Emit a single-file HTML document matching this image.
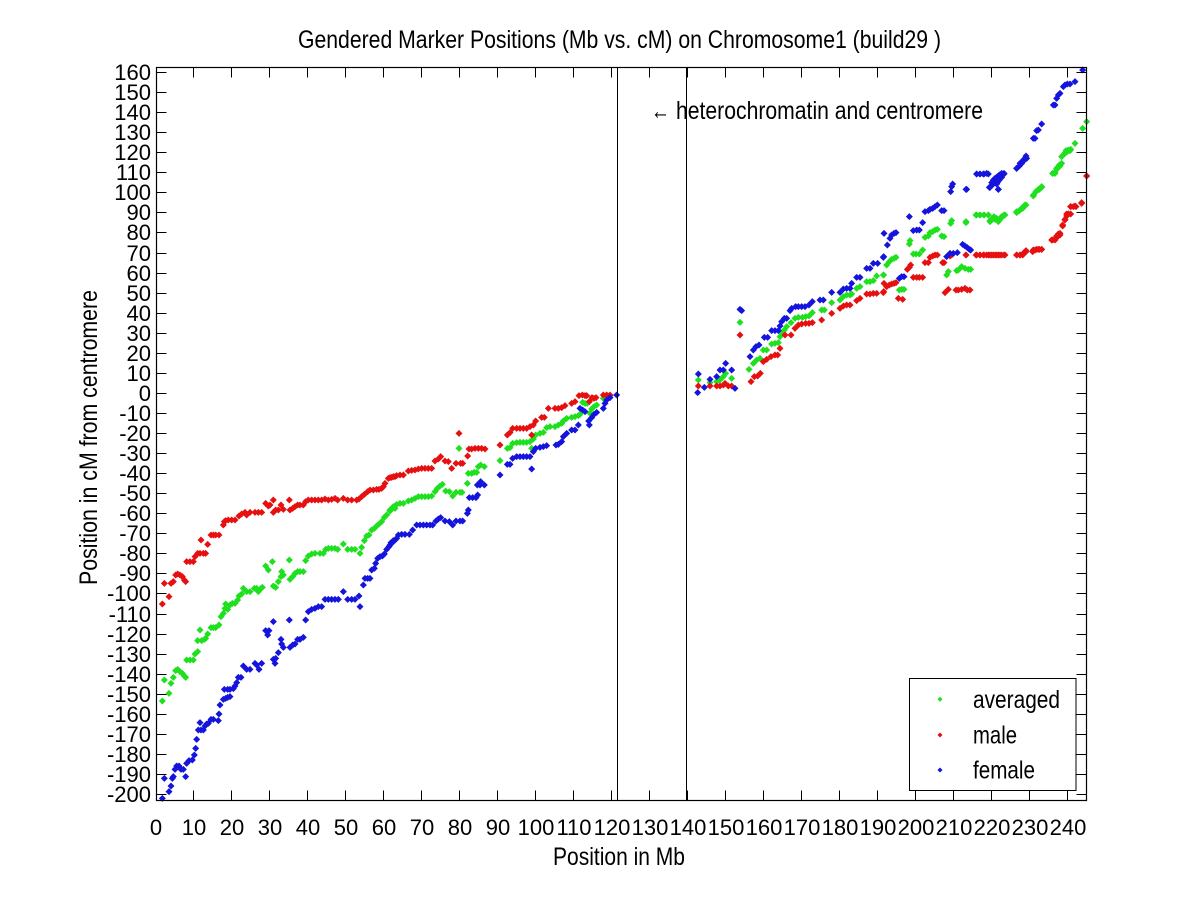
<!DOCTYPE html>
<html>
<head>
<meta charset="utf-8">
<style>
html,body{margin:0;padding:0;background:#fff;}
svg{display:block;}
text{font-family:"Liberation Sans",Arial,sans-serif;fill:#000;}
.tk{font-size:22px;}
.big{font-size:25px;}
</style>
</head>
<body>
<svg width="1200" height="900" viewBox="0 0 1200 900" xmlns="http://www.w3.org/2000/svg">
<defs>
<marker id="mr" viewBox="-12 -12 24 24" refX="0" refY="0" markerWidth="24" markerHeight="24" markerUnits="userSpaceOnUse" overflow="visible"><path d="M0-10.5L10.5 0L0 10.5L-10.5 0Z" fill="#e61010"/></marker>
<marker id="mg" viewBox="-12 -12 24 24" refX="0" refY="0" markerWidth="24" markerHeight="24" markerUnits="userSpaceOnUse" overflow="visible"><path d="M0-10.5L10.5 0L0 10.5L-10.5 0Z" fill="#1ee01e"/></marker>
<marker id="mb" viewBox="-12 -12 24 24" refX="0" refY="0" markerWidth="24" markerHeight="24" markerUnits="userSpaceOnUse" overflow="visible"><path d="M0-10.5L10.5 0L0 10.5L-10.5 0Z" fill="#1414dc"/></marker>
</defs>
<rect x="0" y="0" width="1200" height="900" fill="#fff"/>

<!-- title -->
<text class="big" x="298" y="48" textLength="643" lengthAdjust="spacingAndGlyphs">Gendered Marker Positions (Mb vs. cM) on Chromosome1 (build29 )</text>

<!-- green series -->
<g fill="none" stroke="none">
<polyline transform="translate(155,400) scale(0.33333)" marker-start="url(#mg)" marker-mid="url(#mg)" marker-end="url(#mg)" points="22,903 28,840 42,880 48,850 55,832 62,812 68,808 75,815 82,820 88,828 92,832 95,780 105,780 115,780 120,762 128,755 128,722 135,690 140,722 148,718 152,715 158,702 168,683 175,683 182,683 192,675 198,650 205,640 210,625 212,612 218,628 225,615 232,610 240,610 248,600 252,588 260,582 265,565 275,575 285,575 298,565 305,565 310,575 318,565 322,562 332,498 340,510 352,485 355,558 362,562 370,545 378,530 380,515 385,525 403,480 405,538 413,530 420,520 428,515 435,515 445,515 452,482 460,468 470,462 480,460 495,460 505,460 512,448 520,445 530,445 540,445 548,448 565,432 578,448 590,448 600,448 615,460 620,442 628,422 635,408 642,405 650,390 658,385 665,378 672,372 680,365 688,352 695,345 705,330 712,325 720,325"/>
<polyline transform="translate(390,385) scale(0.33333)" marker-start="url(#mg)" marker-mid="url(#mg)" marker-end="url(#mg)" points="0,378 10,365 20,358 30,355 40,355 55,348 65,345 75,340 85,335 95,335 105,335 115,335 125,333 135,320 142,310 150,303 157,298 167,318 178,320 188,333 198,322 210,322 216,322 232,295 235,265 245,265 252,262 260,262 265,245 272,240 283,245 207,190 330,227 352,190 360,188 368,175 380,173 390,172 400,172 410,172 420,170 425,190 430,162 437,150 450,145 460,142 470,128 480,125 495,125 505,120 515,115 520,108 530,100 545,97 555,95 565,92 570,88 578,52 585,55 592,55 600,85 605,72 612,65 620,60 640,40 650,35 660,32"/>
<polyline transform="translate(685,240) scale(0.33333)" marker-start="url(#mg)" marker-mid="url(#mg)" marker-end="url(#mg)" points="40,420 75,428 95,425 105,420 115,410 122,400 140,415 165,247 192,388 205,370 215,360 225,355 235,330 245,330 260,312 270,310 280,308 285,290 290,278 298,270 305,260 318,248 330,235 340,232 352,232 362,230 372,228 382,218 410,210 418,210 440,188 465,180 475,170 485,165 495,165 500,162 515,145 525,140 545,125 555,125 565,122 575,108 596,105"/>
<polyline transform="translate(880,150) scale(0.33333)" marker-start="url(#mg)" marker-mid="url(#mg)" marker-end="url(#mg)" points="10,375 20,345 28,335 35,328 42,325 48,322 58,420 65,418 72,418 88,282 90,272 100,312 108,312 118,312 128,300 135,262 145,258 150,248 158,245 165,240 172,238 185,258 192,260 200,375 205,365 212,220 215,212 230,362 235,360 245,350 255,355 265,358 272,358 258,215 290,195 300,195 312,195 325,195 330,212 338,205 345,208 352,212 358,210 365,200 372,195 410,185 420,180 428,175 435,165 460,135 468,125 478,118 485,112 518,70 525,68 530,55 538,45 545,40 555,10 562,5 570,2"/>
<polyline transform="translate(960,60) scale(0.33333)" marker-start="url(#mg)" marker-mid="url(#mg)" marker-end="url(#mg)" points="18,488 48,465 60,465 72,465 85,465 90,485 95,480 102,470 110,475 115,485 120,478 128,470 135,465 170,458 178,452 185,445 190,440 198,435 220,408 228,395 235,388 245,380 278,340 285,340 290,328 295,320 300,318 305,290 312,282 318,272 325,270 332,268 345,250 368,205 380,185"/>
</g>

<!-- red series -->
<g fill="none" stroke="none">
<polyline transform="translate(155,400) scale(0.33333)" marker-start="url(#mr)" marker-mid="url(#mr)" marker-end="url(#mr)" points="22,612 28,550 42,590 48,550 55,545 62,525 68,522 75,525 82,530 88,540 92,545 95,485 105,485 115,485 120,470 128,460 135,460 138,420 145,460 152,460 158,433 168,405 175,405 182,405 192,405 205,375 208,365 212,362 220,360 230,360 240,360 252,348 260,342 270,337 275,345 285,337 300,337 310,337 320,337 332,310 340,318 345,315 355,300 355,337 362,330 370,330 378,315 385,328 403,300 405,330 413,325 420,320 428,315 435,315 445,315 452,305 460,300 470,300 480,300 490,300 500,300 510,297 520,300 530,298 540,295 548,300 565,295 578,300 590,300 605,300 612,297 620,290 628,283 638,275 645,270 655,270 665,268 672,268 680,265 685,260 690,250 700,235 710,232 720,230"/>
<polyline transform="translate(390,385) scale(0.33333)" marker-start="url(#mr)" marker-mid="url(#mr)" marker-end="url(#mr)" points="0,278 10,275 20,272 30,270 40,270 55,258 65,256 75,255 85,252 95,250 105,250 115,250 125,250 135,228 145,222 152,215 165,228 175,230 185,250 198,235 207,145 212,235 218,235 233,213 237,192 245,192 255,190 265,190 275,190 285,192 330,180 352,150 360,143 368,130 380,130 390,130 400,130 410,130 420,125 425,150 430,120 437,108 455,97 463,97 475,70 495,70 505,70 515,68 525,62 545,55 555,50 567,32 577,30 585,32 590,32 598,50 606,38 612,40 618,38 640,30 650,30 660,30"/>
<polyline transform="translate(685,240) scale(0.33333)" marker-start="url(#mr)" marker-mid="url(#mr)" marker-end="url(#mr)" points="40,438 75,438 95,438 105,438 115,435 120,430 130,438 140,438 165,285 198,425 208,410 218,408 226,400 235,365 245,358 258,350 270,345 278,345 285,325 300,285 318,285 330,265 340,255 350,252 362,250 372,250 382,248 410,240 440,220 465,205 475,198 485,195 495,195 515,182 525,175 545,162 555,162 565,160 575,160 596,155"/>
<polyline transform="translate(880,150) scale(0.33333)" marker-start="url(#mr)" marker-mid="url(#mr)" marker-end="url(#mr)" points="10,428 12,400 20,410 28,405 35,402 42,400 48,398 55,445 68,448 82,358 88,352 92,345 100,382 110,382 118,382 128,382 135,338 145,338 150,322 158,318 165,315 172,315 188,338 192,338 195,428 205,418 210,318 215,315 228,420 235,420 245,418 255,415 262,420 270,420 258,315 290,315 300,315 310,315 320,315 330,315 340,315 350,315 360,315 372,315 410,315 420,315 428,315 432,308 438,302 460,300 470,298 478,298 485,298 515,270 525,268 530,260 535,258 540,255 548,228 555,210 560,192 565,192 572,170 580,170 588,170 605,158 620,78"/>
<polyline transform="translate(960,60) scale(0.33333)" marker-start="url(#mr)" marker-mid="url(#mr)" marker-end="url(#mr)" points="18,585 48,585 60,585 72,585 85,585 95,585 105,585 115,585 125,585 135,585 170,585 180,585 190,582 198,575 218,575 225,570 235,568 245,568 278,540 285,540 290,528 295,522 300,520 308,495 315,478 320,468 325,462 332,462 332,440 345,438 365,430 380,348"/>
</g>

<!-- blue series -->
<g fill="none" stroke="none">
<polyline transform="translate(155,400) scale(0.33333)" marker-start="url(#mb)" marker-mid="url(#mb)" marker-end="url(#mb)" points="22,1195 28,1135 42,1175 48,1158 52,1135 55,1130 60,1108 65,1098 72,1098 78,1108 85,1108 92,1130 95,1090 102,1082 112,1080 118,1065 122,1045 125,1018 130,990 138,990 135,968 145,990 150,978 155,972 160,970 168,958 175,958 190,962 192,942 195,915 205,898 212,895 218,892 225,890 208,868 218,868 225,868 235,866 240,858 245,848 250,832 258,832 265,798 275,808 285,808 300,790 305,795 312,808 320,790 332,692 338,705 342,692 355,665 355,778 360,790 362,775 370,758 378,718 380,732 385,742 403,660 405,742 413,735 420,732 428,718 435,718 445,712 452,660 460,635 470,628 480,625 490,620 500,620 510,598 520,598 530,598 540,598 550,598 565,575 578,598 590,598 600,598 612,588 615,620 625,555 630,535 638,535 645,535 650,510 658,505 662,490 668,475 675,470 682,468 688,462 695,448 702,440 708,428 715,422 720,420"/>
<polyline transform="translate(390,385) scale(0.33333)" marker-start="url(#mb)" marker-mid="url(#mb)" marker-end="url(#mb)" points="0,480 10,470 20,460 25,450 35,448 45,448 58,448 68,435 80,420 90,420 100,420 110,420 120,420 128,420 138,408 145,402 152,398 165,408 178,410 188,420 198,408 210,408 218,408 232,385 235,375 238,338 248,338 258,338 263,330 262,300 272,290 283,300 270,300 330,270 352,238 360,238 368,220 380,215 390,215 400,215 410,215 420,215 425,252 430,200 437,190 450,187 460,185 470,182 498,180 505,178 515,170 520,155 530,145 545,135 555,135 565,120 570,70 578,75 585,80 598,120 596,108 605,98 612,88 620,82 640,70 645,55 650,45 660,38 680,30"/>
<polyline transform="translate(685,240) scale(0.33333)" marker-start="url(#mb)" marker-mid="url(#mb)" marker-end="url(#mb)" points="38,458 40,402 58,442 75,418 95,410 105,390 115,390 122,370 140,390 150,445 165,208 170,212 195,350 205,330 213,320 222,315 238,292 248,292 260,272 270,272 280,272 285,258 290,245 298,235 305,235 315,212 320,205 332,200 340,200 350,200 360,200 372,195 382,185 405,180 415,180 440,157 465,157 475,147 485,145 495,145 500,130 515,112 525,112 545,85 555,85 565,70 578,70 596,50"/>
<polyline transform="translate(880,150) scale(0.33333)" marker-start="url(#mb)" marker-mid="url(#mb)" marker-end="url(#mb)" points="12,250 22,285 30,265 35,255 42,250 48,248 10,322 58,385 65,380 72,380 88,200 100,242 110,240 118,240 128,218 135,185 145,182 150,178 158,175 165,170 172,165 185,182 192,182 212,125 215,110 218,102 200,320 210,310 220,310 232,308 248,283 255,288 262,293 268,298 272,300 260,118 290,72 300,72 312,72 325,72 330,112 338,98 345,95 352,98 358,90 365,82 372,72 355,118 410,55 420,40 428,35 435,25 438,18"/>
<polyline transform="translate(960,60) scale(0.33333)" marker-start="url(#mb)" marker-mid="url(#mb)" marker-end="url(#mb)" points="18,388 50,342 60,342 70,342 80,340 88,382 95,368 100,360 105,355 112,350 118,345 125,340 132,340 100,372 110,372 115,388 170,325 178,318 185,310 190,300 195,298 200,295 220,235 225,235 230,212 235,210 245,192 280,135 285,135 290,115 295,105 300,100 310,80 315,75 322,72 330,72 345,65 368,30"/>
</g>

<!-- centromere lines -->
<line x1="617.5" y1="67" x2="617.5" y2="801" stroke="#000" stroke-width="1"/>
<line x1="686.5" y1="67" x2="686.5" y2="801" stroke="#000" stroke-width="1"/>

<!-- axes frame -->
<rect x="156.5" y="67.5" width="930" height="733" fill="none" stroke="#000" stroke-width="1.2"/>

<!-- y ticks -->
<path stroke="#000" stroke-width="1" fill="none" d="
M156.5 72.5h10M156.5 92.5h10M156.5 112.5h10M156.5 132.5h10M156.5 152.5h10M156.5 172.5h10M156.5 192.5h10M156.5 212.5h10M156.5 232.5h10M156.5 253.5h10M156.5 273.5h10M156.5 293.5h10M156.5 313.5h10M156.5 333.5h10M156.5 353.5h10M156.5 373.5h10M156.5 393.5h10M156.5 413.5h10M156.5 433.5h10M156.5 453.5h10M156.5 473.5h10M156.5 493.5h10M156.5 513.5h10M156.5 533.5h10M156.5 553.5h10M156.5 573.5h10M156.5 593.5h10M156.5 614.5h10M156.5 634.5h10M156.5 654.5h10M156.5 674.5h10M156.5 694.5h10M156.5 714.5h10M156.5 734.5h10M156.5 754.5h10M156.5 774.5h10M156.5 794.5h10
M1086.5 72.5h-10M1086.5 92.5h-10M1086.5 112.5h-10M1086.5 132.5h-10M1086.5 152.5h-10M1086.5 172.5h-10M1086.5 192.5h-10M1086.5 212.5h-10M1086.5 232.5h-10M1086.5 253.5h-10M1086.5 273.5h-10M1086.5 293.5h-10M1086.5 313.5h-10M1086.5 333.5h-10M1086.5 353.5h-10M1086.5 373.5h-10M1086.5 393.5h-10M1086.5 413.5h-10M1086.5 433.5h-10M1086.5 453.5h-10M1086.5 473.5h-10M1086.5 493.5h-10M1086.5 513.5h-10M1086.5 533.5h-10M1086.5 553.5h-10M1086.5 573.5h-10M1086.5 593.5h-10M1086.5 614.5h-10M1086.5 634.5h-10M1086.5 654.5h-10M1086.5 674.5h-10M1086.5 694.5h-10M1086.5 714.5h-10M1086.5 734.5h-10M1086.5 754.5h-10M1086.5 774.5h-10M1086.5 794.5h-10"/>

<!-- x ticks -->
<path stroke="#000" stroke-width="1" fill="none" d="
M193.5 800.5v-10M231.5 800.5v-10M269.5 800.5v-10M307.5 800.5v-10M345.5 800.5v-10M383.5 800.5v-10M421.5 800.5v-10M459.5 800.5v-10M497.5 800.5v-10M535.5 800.5v-10M573.5 800.5v-10M611.5 800.5v-10M649.5 800.5v-10M687.5 800.5v-10M725.5 800.5v-10M763.5 800.5v-10M801.5 800.5v-10M839.5 800.5v-10M877.5 800.5v-10M915.5 800.5v-10M953.5 800.5v-10M991.5 800.5v-10M1029.5 800.5v-10M1067.5 800.5v-10
M193.5 67.5v10M231.5 67.5v10M269.5 67.5v10M307.5 67.5v10M345.5 67.5v10M383.5 67.5v10M421.5 67.5v10M459.5 67.5v10M497.5 67.5v10M535.5 67.5v10M573.5 67.5v10M611.5 67.5v10M649.5 67.5v10M687.5 67.5v10M725.5 67.5v10M763.5 67.5v10M801.5 67.5v10M839.5 67.5v10M877.5 67.5v10M915.5 67.5v10M953.5 67.5v10M991.5 67.5v10M1029.5 67.5v10M1067.5 67.5v10"/>

<!-- y tick labels -->
<g class="tk" text-anchor="end">
<text x="151" y="80">160</text>
<text x="151" y="100">150</text>
<text x="151" y="120">140</text>
<text x="151" y="140">130</text>
<text x="151" y="160">120</text>
<text x="151" y="180">110</text>
<text x="151" y="200">100</text>
<text x="151" y="220">90</text>
<text x="151" y="240">80</text>
<text x="151" y="261">70</text>
<text x="151" y="281">60</text>
<text x="151" y="301">50</text>
<text x="151" y="321">40</text>
<text x="151" y="341">30</text>
<text x="151" y="361">20</text>
<text x="151" y="381">10</text>
<text x="151" y="401">0</text>
<text x="151" y="421">-10</text>
<text x="151" y="441">-20</text>
<text x="151" y="461">-30</text>
<text x="151" y="481">-40</text>
<text x="151" y="501">-50</text>
<text x="151" y="521">-60</text>
<text x="151" y="541">-70</text>
<text x="151" y="561">-80</text>
<text x="151" y="581">-90</text>
<text x="151" y="601">-100</text>
<text x="151" y="622">-110</text>
<text x="151" y="642">-120</text>
<text x="151" y="662">-130</text>
<text x="151" y="682">-140</text>
<text x="151" y="702">-150</text>
<text x="151" y="722">-160</text>
<text x="151" y="742">-170</text>
<text x="151" y="762">-180</text>
<text x="151" y="782">-190</text>
<text x="151" y="802">-200</text>
</g>

<!-- x tick labels -->
<g class="tk" text-anchor="middle">
<text x="156" y="835">0</text>
<text x="194" y="835">10</text>
<text x="232" y="835">20</text>
<text x="270" y="835">30</text>
<text x="308" y="835">40</text>
<text x="346" y="835">50</text>
<text x="384" y="835">60</text>
<text x="422" y="835">70</text>
<text x="460" y="835">80</text>
<text x="498" y="835">90</text>
<text x="536" y="835">100</text>
<text x="574" y="835">110</text>
<text x="612" y="835">120</text>
<text x="650" y="835">130</text>
<text x="688" y="835">140</text>
<text x="726" y="835">150</text>
<text x="764" y="835">160</text>
<text x="802" y="835">170</text>
<text x="840" y="835">180</text>
<text x="878" y="835">190</text>
<text x="916" y="835">200</text>
<text x="954" y="835">210</text>
<text x="992" y="835">220</text>
<text x="1030" y="835">230</text>
<text x="1068" y="835">240</text>
</g>

<!-- axis labels -->
<text class="big" x="553" y="865" textLength="132" lengthAdjust="spacingAndGlyphs">Position in Mb</text>
<text class="big" transform="translate(97,585) rotate(-90)" x="0" y="0" textLength="295" lengthAdjust="spacingAndGlyphs">Position in cM from centromere</text>

<!-- annotation -->
<text class="big" x="651" y="119" textLength="19" lengthAdjust="spacingAndGlyphs">←</text>
<text class="big" x="676" y="119" textLength="307" lengthAdjust="spacingAndGlyphs">heterochromatin and centromere</text>

<!-- legend -->
<rect x="909.5" y="678.5" width="166.5" height="112" fill="#fff" stroke="#000" stroke-width="1"/>
<path d="M940 696.8L942.5 699.3L940 701.8L937.5 699.3Z" fill="#1ee01e"/>
<path d="M940 732.5L942.5 735L940 737.5L937.5 735Z" fill="#e61010"/>
<path d="M940 767.5L942.5 770L940 772.5L937.5 770Z" fill="#1414dc"/>
<text class="big" x="973" y="708" textLength="87" lengthAdjust="spacingAndGlyphs">averaged</text>
<text class="big" x="973" y="743.5" textLength="44" lengthAdjust="spacingAndGlyphs">male</text>
<text class="big" x="973" y="778.5" textLength="62" lengthAdjust="spacingAndGlyphs">female</text>
</svg>
</body>
</html>
